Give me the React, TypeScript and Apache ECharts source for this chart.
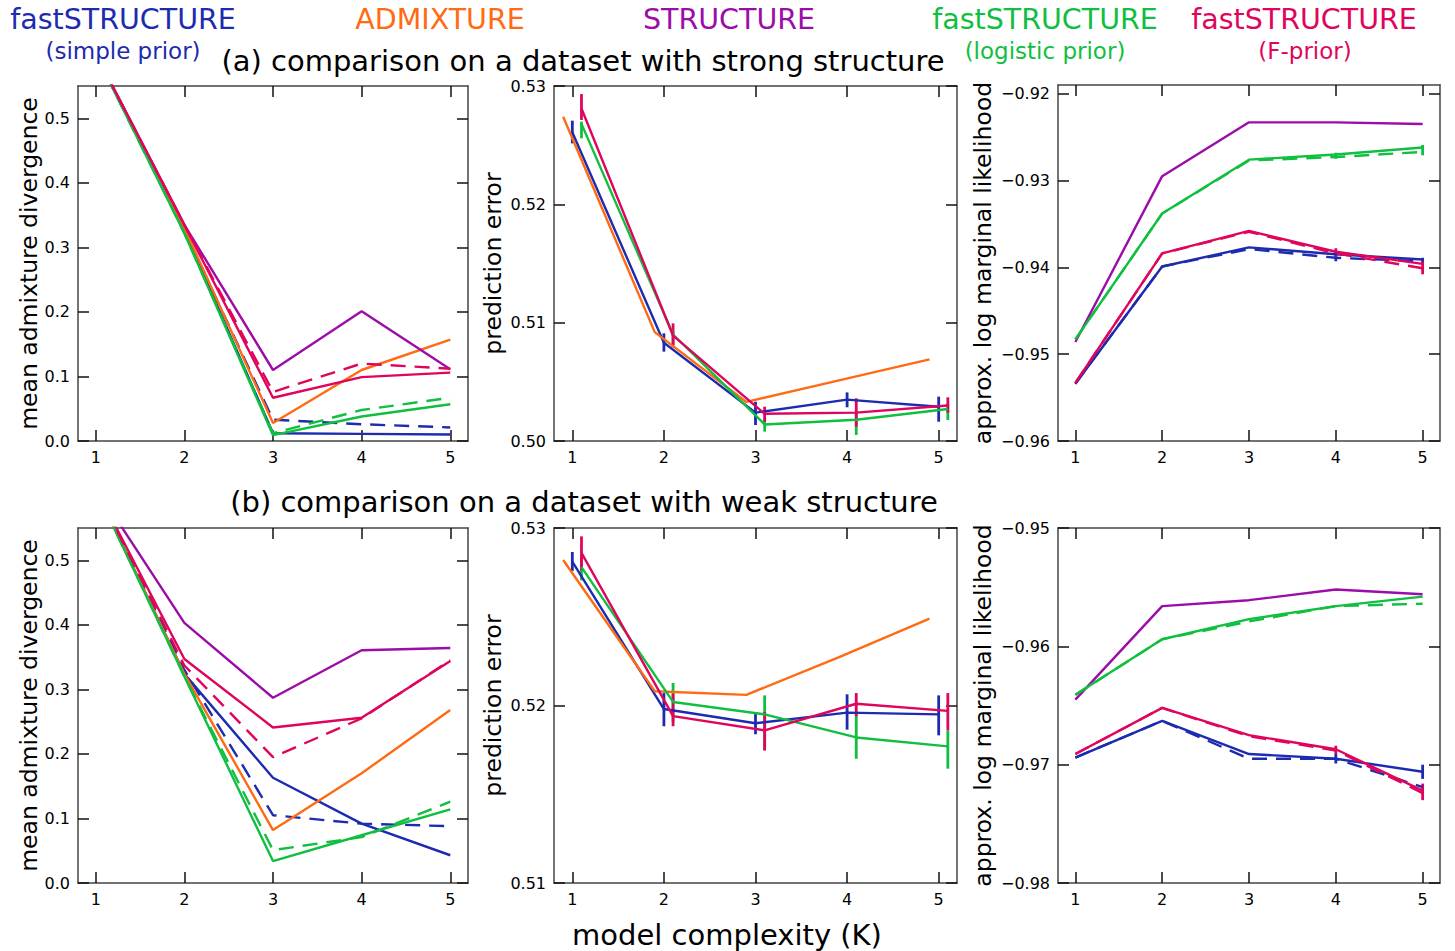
import React, { useEffect, useRef } from "react";
import * as echarts from "echarts";

// ---------- categories / x positions ----------
const K = [1, 2, 3, 4, 5];
const K_ADMIX = [0.9, 1.9, 2.9, 3.9, 4.9];
const K_SHIFT = [1.1, 2.1, 3.1, 4.1, 5.1];

// ---------- colours ----------
const C_SIMPLE = "#1c2bb0";
const C_ADMIX = "#ff6a13";
const C_STRUCT = "#9c0ca9";
const C_LOGIT = "#10bf40";
const C_FPRIOR = "#e0055c";

// ---------- (a) strong structure : mean admixture divergence ----------
const aDivSimple = [0.6, 0.326, 0.012, 0.011, 0.01];
const aDivSimpleD = [0.6, 0.326, 0.033, 0.026, 0.021];
const aDivAdmix = [0.6, 0.33, 0.028, 0.11, 0.157];
const aDivStruct = [0.6, 0.335, 0.11, 0.201, 0.111];
const aDivLogit = [0.6, 0.322, 0.009, 0.038, 0.057];
const aDivLogitD = [0.6, 0.322, 0.012, 0.048, 0.067];
const aDivF = [0.6, 0.335, 0.067, 0.099, 0.106];
const aDivFD = [0.6, 0.335, 0.076, 0.12, 0.112];

// ---------- (a) prediction error ----------
const aErrAdmix = [0.5274, 0.5092, 0.5033, 0.5051, 0.5069];
const aErrSimple = [0.5261, 0.5083, 0.5024, 0.5035, 0.5029];
const aErrSimpleLo = [0.52515, 0.50755, 0.50135, 0.50285, 0.50163];
const aErrSimpleHi = [0.52707, 0.5091, 0.50332, 0.50411, 0.50375];
const aErrF = [0.5281, 0.5089, 0.5023, 0.5024, 0.503];
const aErrFLo = [0.52713, 0.50792, 0.50163, 0.50121, 0.50239];
const aErrFHi = [0.52932, 0.50994, 0.5029, 0.50361, 0.50369];
const aErrLogit = [0.5268, 0.509, 0.5014, 0.5018, 0.5027];
const aErrLogitLo = [0.52558, 0.50811, 0.50079, 0.50051, 0.50177];
const aErrLogitHi = [0.52699, 0.50924, 0.50192, 0.50234, 0.50318];

// ---------- (a) approx. log marginal likelihood ----------
const aLikSimple = [-0.9534, -0.9399, -0.9377, -0.9385, -0.9391];
const aLikSimpleD = [-0.9534, -0.9399, -0.9379, -0.9389, -0.9393];
const aLikStruct = [-0.9486, -0.9295, -0.9233, -0.9233, -0.9235];
const aLikLogit = [-0.9483, -0.9338, -0.9276, -0.927, -0.9262];
const aLikLogitD = [-0.9483, -0.9338, -0.9277, -0.9273, -0.9267];
const aLikF = [-0.9533, -0.9384, -0.9358, -0.9382, -0.9396];
const aLikFD = [-0.9533, -0.9384, -0.9359, -0.9384, -0.9401];
const aLikSimpleLo = [null, null, null, -0.9393, -0.9395];
const aLikSimpleHi = [null, null, null, -0.9383, -0.9389];
const aLikFLo = [null, null, null, -0.9388, -0.9408];
const aLikFHi = [null, null, null, -0.9378, -0.9393];
const aLikLogitLo = [null, null, null, -0.9275, -0.9271];
const aLikLogitHi = [null, null, null, -0.9268, -0.9259];

// ---------- (b) weak structure : mean admixture divergence ----------
const bDivSimple = [0.61, 0.324, 0.163, 0.092, 0.043];
const bDivSimpleD = [0.61, 0.33, 0.105, 0.092, 0.088];
const bDivAdmix = [0.61, 0.324, 0.082, 0.17, 0.268];
const bDivStruct = [0.613, 0.403, 0.287, 0.3605, 0.364];
const bDivLogit = [0.61, 0.32, 0.034, 0.074, 0.114];
const bDivLogitD = [0.61, 0.32, 0.051, 0.071, 0.126];
const bDivF = [0.612, 0.347, 0.241, 0.256, 0.344];
const bDivFD = [0.612, 0.337, 0.195, 0.255, 0.345];

// ---------- (b) prediction error ----------
const bErrAdmix = [0.5282, 0.5208, 0.5206, 0.5227, 0.5249];
const bErrSimple = [0.5281, 0.5198, 0.519, 0.5196, 0.5195];
const bErrSimpleLo = [0.52758, 0.51883, 0.51838, 0.51864, 0.51832];
const bErrSimpleHi = [0.52865, 0.5207, 0.51963, 0.52063, 0.52057];
const bErrF = [0.5286, 0.5194, 0.5186, 0.5201, 0.5197];
const bErrFLo = [0.52762, 0.51883, 0.51747, 0.51939, 0.5186];
const bErrFHi = [0.52953, 0.52067, 0.51963, 0.5207, 0.5207];
const bErrLogit = [0.5278, 0.5202, 0.5195, 0.5182, 0.5177];
const bErrLogitLo = [0.52705, 0.51907, 0.51747, 0.517, 0.51644];
const bErrLogitHi = [0.52846, 0.52127, 0.52057, 0.51945, 0.5186];

// ---------- (b) approx. log marginal likelihood ----------
const bLikSimple = [-0.9694, -0.9663, -0.9691, -0.9695, -0.9706];
const bLikSimpleD = [-0.9694, -0.9663, -0.9695, -0.9695, -0.9719];
const bLikStruct = [-0.9645, -0.9566, -0.9561, -0.9552, -0.9556];
const bLikLogit = [-0.9641, -0.9594, -0.9577, -0.9566, -0.9558];
const bLikLogitD = [-0.9641, -0.9594, -0.9579, -0.9566, -0.9564];
const bLikF = [-0.9691, -0.9652, -0.9675, -0.9687, -0.9722];
const bLikFD = [-0.9691, -0.9652, -0.9676, -0.9688, -0.9724];
const bLikSimpleLo = [null, null, null, -0.9699, -0.9712];
const bLikSimpleHi = [null, null, null, -0.9691, -0.97];
const bLikFLo = [null, null, null, -0.9691, -0.973];
const bLikFHi = [null, null, null, -0.9684, -0.9716];

// ---------- tick labels ----------
const X_TICKS = [1, 2, 3, 4, 5];
const DIV_TICKS = [0, 0.1, 0.2, 0.3, 0.4, 0.5];
const A_ERR_TICKS = [0.5, 0.51, 0.52, 0.53];
const B_ERR_TICKS = [0.51, 0.52, 0.53];
const A_LIK_TICKS = [-0.96, -0.95, -0.94, -0.93, -0.92];
const B_LIK_TICKS = [-0.98, -0.97, -0.96, -0.95];

const FONT = "DejaVu Sans";

const GRIDS = [
  { left: 78, top: 86, width: 390, height: 355 },
  { left: 554, top: 86, width: 403, height: 355 },
  { left: 1058, top: 85, width: 382, height: 356 },
  { left: 78, top: 528, width: 390, height: 355 },
  { left: 554, top: 528, width: 403, height: 355 },
  { left: 1058, top: 528, width: 382, height: 355 },
];

function fmt1(v: number) {
  return v.toFixed(1);
}
function fmt2(v: number) {
  return v.toFixed(2);
}
function fmtNeg(v: number) {
  return (v < 0 ? "\u2212" : "") + Math.abs(v).toFixed(2);
}

const Y_AXES = [
  { min: 0, max: 0.55, ticks: DIV_TICKS, fmt: fmt1, name: "mean admixture divergence", gap: 35 },
  { min: 0.5, max: 0.53, ticks: A_ERR_TICKS, fmt: fmt2, name: "prediction error", gap: 49 },
  { min: -0.96, max: -0.919, ticks: A_LIK_TICKS, fmt: fmtNeg, name: "approx. log marginal likelihood", gap: 63 },
  { min: 0, max: 0.55, ticks: DIV_TICKS, fmt: fmt1, name: "mean admixture divergence", gap: 35 },
  { min: 0.51, max: 0.53, ticks: B_ERR_TICKS, fmt: fmt2, name: "prediction error", gap: 49 },
  { min: -0.98, max: -0.95, ticks: B_LIK_TICKS, fmt: fmtNeg, name: "approx. log marginal likelihood", gap: 63 },
];

function line(g: number, xs: number[], ys: number[], color: string, dashed = false) {
  return {
    type: "line",
    xAxisIndex: 2 * g,
    yAxisIndex: 2 * g,
    data: xs.map((x, i) => [x, ys[i]]),
    symbol: "none",
    silent: true,
    clip: true,
    lineStyle: { color, width: 2.4, type: dashed ? [15, 9] : "solid" },
    itemStyle: { color },
  };
}

function errBars(g: number, xs: number[], lo: (number | null)[], hi: (number | null)[], color: string) {
  const data: number[][] = [];
  xs.forEach((x, i) => {
    if (lo[i] != null && hi[i] != null) data.push([x, lo[i] as number, hi[i] as number]);
  });
  return {
    type: "custom",
    xAxisIndex: 2 * g,
    yAxisIndex: 2 * g,
    silent: true,
    clip: true,
    data,
    renderItem: (params: any, api: any) => {
      const p1 = api.coord([api.value(0), api.value(1)]);
      const p2 = api.coord([api.value(0), api.value(2)]);
      return {
        type: "line",
        shape: { x1: p1[0], y1: p1[1], x2: p2[0], y2: p2[1] },
        style: { stroke: color, lineWidth: 2.8 },
      };
    },
    z: 3,
  };
}

function buildOption() {
  const xAxis: any[] = [];
  const yAxis: any[] = [];
  GRIDS.forEach((_, g) => {
    const frame = { show: true, onZero: false, lineStyle: { color: "#444", width: 1.5 } };
    const tick = { show: true, inside: true, length: 11, customValues: X_TICKS, lineStyle: { color: "#111", width: 1.5 } };
    xAxis.push({
      type: "value",
      gridIndex: g,
      position: "bottom",
      min: 0.8,
      max: 5.2,
      axisLine: frame,
      axisTick: tick,
      splitLine: { show: false },
      axisLabel: {
        show: true,
        customValues: X_TICKS,
        formatter: (v: number) => String(v),
        margin: 8,
        color: "#000",
        fontSize: 16,
        fontFamily: FONT,
      },
    });
    xAxis.push({
      type: "value",
      gridIndex: g,
      position: "top",
      min: 0.8,
      max: 5.2,
      axisLine: frame,
      axisTick: tick,
      splitLine: { show: false },
      axisLabel: { show: false },
    });
    const ya = Y_AXES[g];
    const ytick = { show: true, inside: true, length: 11, customValues: ya.ticks, lineStyle: { color: "#111", width: 1.5 } };
    yAxis.push({
      type: "value",
      gridIndex: g,
      position: "left",
      min: ya.min,
      max: ya.max,
      axisLine: frame,
      axisTick: ytick,
      splitLine: { show: false },
      axisLabel: {
        show: true,
        customValues: ya.ticks,
        formatter: ya.fmt,
        margin: 8,
        color: "#000",
        fontSize: 16,
        fontFamily: FONT,
      },
      name: ya.name,
      nameLocation: "middle",
      nameGap: ya.gap,
      nameTextStyle: { color: "#000", fontSize: 23.5, fontFamily: FONT },
    });
    yAxis.push({
      type: "value",
      gridIndex: g,
      position: "right",
      min: ya.min,
      max: ya.max,
      axisLine: frame,
      axisTick: ytick,
      splitLine: { show: false },
      axisLabel: { show: false },
    });
  });

  const series: any[] = [
    // (a) divergence
    line(0, K, aDivSimple, C_SIMPLE),
    line(0, K, aDivSimpleD, C_SIMPLE, true),
    line(0, K, aDivAdmix, C_ADMIX),
    line(0, K, aDivStruct, C_STRUCT),
    line(0, K, aDivLogit, C_LOGIT),
    line(0, K, aDivLogitD, C_LOGIT, true),
    line(0, K, aDivF, C_FPRIOR),
    line(0, K, aDivFD, C_FPRIOR, true),
    // (a) prediction error
    line(1, K, aErrSimple, C_SIMPLE),
    errBars(1, K, aErrSimpleLo, aErrSimpleHi, C_SIMPLE),
    line(1, K_ADMIX, aErrAdmix, C_ADMIX),
    line(1, K_SHIFT, aErrLogit, C_LOGIT),
    errBars(1, K_SHIFT, aErrLogitLo, aErrLogitHi, C_LOGIT),
    line(1, K_SHIFT, aErrF, C_FPRIOR),
    errBars(1, K_SHIFT, aErrFLo, aErrFHi, C_FPRIOR),
    // (a) likelihood
    line(2, K, aLikSimple, C_SIMPLE),
    line(2, K, aLikSimpleD, C_SIMPLE, true),
    errBars(2, K, aLikSimpleLo, aLikSimpleHi, C_SIMPLE),
    line(2, K, aLikStruct, C_STRUCT),
    line(2, K, aLikLogit, C_LOGIT),
    line(2, K, aLikLogitD, C_LOGIT, true),
    errBars(2, K, aLikLogitLo, aLikLogitHi, C_LOGIT),
    line(2, K, aLikF, C_FPRIOR),
    line(2, K, aLikFD, C_FPRIOR, true),
    errBars(2, K, aLikFLo, aLikFHi, C_FPRIOR),
    // (b) divergence
    line(3, K, bDivSimple, C_SIMPLE),
    line(3, K, bDivSimpleD, C_SIMPLE, true),
    line(3, K, bDivAdmix, C_ADMIX),
    line(3, K, bDivStruct, C_STRUCT),
    line(3, K, bDivLogit, C_LOGIT),
    line(3, K, bDivLogitD, C_LOGIT, true),
    line(3, K, bDivF, C_FPRIOR),
    line(3, K, bDivFD, C_FPRIOR, true),
    // (b) prediction error
    line(4, K, bErrSimple, C_SIMPLE),
    errBars(4, K, bErrSimpleLo, bErrSimpleHi, C_SIMPLE),
    line(4, K_ADMIX, bErrAdmix, C_ADMIX),
    line(4, K_SHIFT, bErrLogit, C_LOGIT),
    errBars(4, K_SHIFT, bErrLogitLo, bErrLogitHi, C_LOGIT),
    line(4, K_SHIFT, bErrF, C_FPRIOR),
    errBars(4, K_SHIFT, bErrFLo, bErrFHi, C_FPRIOR),
    // (b) likelihood
    line(5, K, bLikSimple, C_SIMPLE),
    line(5, K, bLikSimpleD, C_SIMPLE, true),
    errBars(5, K, bLikSimpleLo, bLikSimpleHi, C_SIMPLE),
    line(5, K, bLikStruct, C_STRUCT),
    line(5, K, bLikLogit, C_LOGIT),
    line(5, K, bLikLogitD, C_LOGIT, true),
    line(5, K, bLikF, C_FPRIOR),
    line(5, K, bLikFD, C_FPRIOR, true),
    errBars(5, K, bLikFLo, bLikFHi, C_FPRIOR),
  ];

  const txt = (text: string, x: number, y: number, size: number, fill: string, lh: number) => ({
    type: "text",
    x,
    y,
    silent: true,
    style: {
      text,
      fill,
      font: `${size}px "${FONT}"`,
      fontSize: size,
      fontFamily: FONT,
      lineHeight: lh,
      align: "center",
      verticalAlign: "middle",
      textAlign: "center",
      textVerticalAlign: "middle",
    },
  });

  const graphic = [
    txt("fastSTRUCTURE", 123, 19.5, 28.5, C_SIMPLE, 26),
    txt("(simple prior)", 123, 50.5, 23, C_SIMPLE, 21),
    txt("ADMIXTURE", 440, 19.5, 28.5, C_ADMIX, 26),
    txt("STRUCTURE", 729, 19.5, 28.5, C_STRUCT, 26),
    txt("fastSTRUCTURE", 1045, 19.5, 28.5, C_LOGIT, 26),
    txt("(logistic prior)", 1045, 50.5, 23, C_LOGIT, 21),
    txt("fastSTRUCTURE", 1304, 19.5, 28.5, C_FPRIOR, 26),
    txt("(F-prior)", 1305, 50.5, 23, C_FPRIOR, 21),
    txt("(a) comparison on a dataset with strong structure", 583, 61, 29, "#000", 29),
    txt("(b) comparison on a dataset with weak structure", 584, 502, 29, "#000", 29),
    txt("model complexity (K)", 727, 935, 29, "#000", 29),
  ];

  return {
    animation: false,
    backgroundColor: "#fff",
    textStyle: { fontFamily: FONT },
    grid: GRIDS.map((g) => ({ ...g, containLabel: false })),
    xAxis,
    yAxis,
    series,
    graphic,
  };
}

export default function App() {
  const ref = useRef<HTMLDivElement>(null);
  useEffect(() => {
    if (!ref.current) return;
    const chart = echarts.init(ref.current, undefined, { renderer: "svg" });
    chart.setOption(buildOption() as any);
    return () => chart.dispose();
  }, []);
  return (
    <div
      ref={ref}
      style={{ position: "absolute", left: 0, top: 0, width: 1455, height: 951, background: "#fff" }}
    />
  );
}
